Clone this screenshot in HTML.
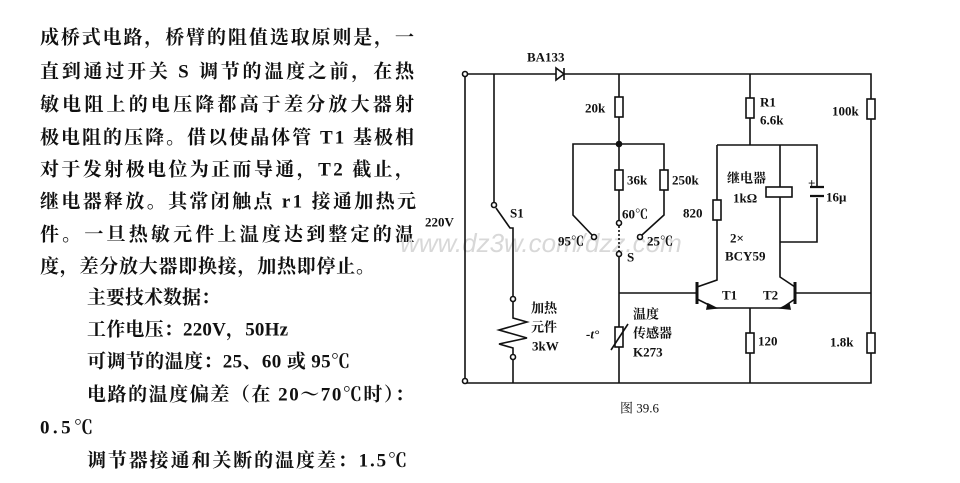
<!DOCTYPE html>
<html><head><meta charset="utf-8"><style>
html,body{margin:0;padding:0;background:#fff;width:960px;height:483px;overflow:hidden}
svg{display:block}
.t{font-family:"Liberation Serif","Noto Serif CJK SC",serif;font-size:19px;font-weight:bold;fill:#111}
.s{font-family:"Liberation Serif","Noto Serif CJK SC",serif;font-size:13px;font-weight:bold;fill:#111}
</style></head><body>
<svg width="960" height="483" viewBox="0 0 960 483" xmlns="http://www.w3.org/2000/svg">
<g class="t" dominant-baseline="central">
<text x="40" y="38" textLength="374" lengthAdjust="spacing">成桥式电路，桥臂的阻值选取原则是，一</text>
<text x="40" y="72" textLength="374" lengthAdjust="spacing">直到通过开关 S 调节的温度之前，在热</text>
<text x="40" y="105" textLength="374" lengthAdjust="spacing">敏电阻上的电压降都高于差分放大器射</text>
<text x="40" y="138" textLength="374" lengthAdjust="spacing">极电阻的压降。借以使晶体管 T1 基极相</text>
<text x="40" y="170" textLength="374" lengthAdjust="spacing">对于发射极电位为正而导通，T2 截止，</text>
<text x="40" y="202" textLength="376" lengthAdjust="spacing">继电器释放。其常闭触点 r1 接通加热元</text>
<text x="40" y="235" textLength="374" lengthAdjust="spacing">件。一旦热敏元件上温度达到整定的温</text>
<text x="40" y="267" textLength="335" lengthAdjust="spacing">度，差分放大器即换接，加热即停止。</text>
<text x="87" y="298" textLength="133" lengthAdjust="spacing">主要技术数据：</text>
<text x="87" y="330" textLength="201" lengthAdjust="spacing">工作电压：220V，50Hz</text>
<text x="87" y="362" textLength="263" lengthAdjust="spacing">可调节的温度：25、60 或 95℃</text>
<text x="87" y="395" textLength="327" lengthAdjust="spacing">电路的温度偏差（在 20～70℃时）：</text>
<text x="40" y="428" textLength="53" lengthAdjust="spacing">0.5℃</text>
<text x="87" y="461" textLength="320" lengthAdjust="spacing">调节器接通和关断的温度差：1.5℃</text>
</g>
<text x="400" y="252" font-family="Liberation Sans,sans-serif" font-size="26" font-style="italic" fill="#d8d8d8">www.dz3w.com/dzz.com</text>
<g stroke="#111" stroke-width="1.6" fill="none">
<!-- main rails -->
<path d="M465 74 H871 V383 H465"/>
<path d="M465 74 V381"/>
<circle cx="465" cy="74" r="2.5" fill="#fff"/><circle cx="465" cy="381" r="2.5" fill="#fff"/>
<!-- diode -->
<path d="M556 68 V80 L564 74 Z" fill="#fff"/><path d="M564 68 V80"/>
<!-- S1 and heater -->
<path d="M494 74 V205"/><circle cx="494" cy="205" r="2.5" fill="#fff"/>
<path d="M496 208 L510 228 H513 V297"/>
<circle cx="513" cy="299" r="2.5" fill="#fff"/>
<path d="M513 302 V318 L527 322 L499 330 L527 338 L499 344 L513 348 V355"/>
<circle cx="513" cy="357" r="2.5" fill="#fff"/><path d="M513 360 V383"/>
<!-- 20k branch -->
<path d="M619 74 V97 M619 117 V170 M619 190 V221"/>
<rect x="615" y="97" width="8" height="20"/>
<rect x="615" y="170" width="8" height="20"/>
<circle cx="619" cy="144" r="2.5" fill="#111"/>
<path d="M619 144 H573 V215 L592 235"/>
<path d="M619 144 H664 V170 M664 190 V215 L642 235"/>
<rect x="660" y="170" width="8" height="20"/>
<circle cx="619" cy="223" r="2.5" fill="#fff"/>
<circle cx="594" cy="237" r="2.5" fill="#fff"/>
<circle cx="640" cy="237" r="2.5" fill="#fff"/>
<path d="M619 226 V251" stroke-dasharray="2 2"/>
<circle cx="619" cy="254" r="2.5" fill="#fff"/>
<path d="M619 257 V327 M619 347 V383 M619 293 H697"/>
<rect x="615" y="327" width="8" height="20"/>
<path d="M611 350 L628 324"/>
<!-- 820 / T1 -->
<path d="M717 145 V200 M717 220 V280 L697 287"/>
<rect x="713" y="200" width="8" height="20"/>
<path d="M697 282 V304" stroke-width="3"/>
<path d="M697 299 L715 308 H782 L795 299"/>
<path d="M708 304 L716 308 L707 309 Z" fill="#111"/>
<path d="M789 304 L781 308 L790 309 Z" fill="#111"/>
<!-- R1 / relay bus -->
<path d="M750 74 V98 M750 118 V145 M717 145 H817 V187 M817 198 V242 H780"/>
<rect x="746" y="98" width="8" height="20"/>
<path d="M780 145 V187 M780 197 V277 L795 287"/>
<rect x="766" y="187" width="26" height="10"/>
<path d="M810 187 H824 M810 196 H824" stroke-width="2.2"/>
<path d="M795 282 V304" stroke-width="3"/>
<path d="M795 293 H871"/>
<!-- emitter resistor -->
<path d="M750 308 V333 M750 353 V383"/>
<rect x="746" y="333" width="8" height="20"/>
<!-- right column -->
<rect x="867" y="99" width="8" height="20" fill="#fff"/>
<rect x="867" y="333" width="8" height="20" fill="#fff"/>
</g>
<g class="s" dominant-baseline="central">
<text x="527" y="57">BA133</text>
<text x="425" y="222">220V</text>
<text x="510" y="213">S1</text>
<text x="585" y="108">20k</text>
<text x="627" y="180">36k</text>
<text x="672" y="180">250k</text>
<text x="622" y="214">60℃</text>
<text x="558" y="241">95℃</text>
<text x="647" y="241">25℃</text>
<text x="627" y="257">S</text>
<text x="531" y="308">加热</text>
<text x="531" y="327">元件</text>
<text x="532" y="346">3kW</text>
<text x="633" y="314">温度</text>
<text x="633" y="333">传感器</text>
<text x="633" y="352">K273</text>
<text x="586" y="334" font-style="italic">-t°</text>
<text x="683" y="213">820</text>
<text x="727" y="178">继电器</text>
<text x="733" y="198">1kΩ</text>
<text x="808" y="183">+</text>
<text x="826" y="197">16μ</text>
<text x="730" y="238">2×</text>
<text x="725" y="256">BCY59</text>
<text x="722" y="295">T1</text>
<text x="763" y="295">T2</text>
<text x="760" y="102">R1</text>
<text x="760" y="120">6.6k</text>
<text x="832" y="111">100k</text>
<text x="758" y="341">120</text>
<text x="830" y="342">1.8k</text>
<text x="620" y="408" font-weight="normal">图 39.6</text>
</g>
</svg>
</body></html>
